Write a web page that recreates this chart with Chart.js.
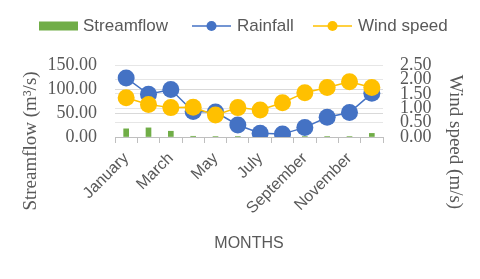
<!DOCTYPE html>
<html>
<head>
<meta charset="utf-8">
<script src="https://cdn.jsdelivr.net/npm/chart.js@4"></script>
<style>
  html, body { margin: 0; padding: 0; background: #fff; }
  #wrap { width: 480px; height: 279px; }
</style>
</head>
<body>
<div id="wrap"><canvas id="myChart" width="480" height="279"></canvas></div>
<script>
// data
const months = ['January', 'February', 'March', 'April', 'May', 'June',
    'July', 'August', 'September', 'October', 'November', 'December'];
const streamflow = [17, 19, 12, 1.5, 1, 1, 0.5, 0.5, 1, 1, 1, 7.5];
const rainfall = [123, 89, 99, 53, 52, 25, 8, 6, 20, 41, 51, 91];
const windSpeed = [1.36, 1.13, 1.02, 1.03, 0.76, 1.02, 0.94, 1.19, 1.54, 1.72, 1.92, 1.72];
const leftTicks = [0, 50, 100, 150];
const rightTicks = [0, 0.5, 1, 1.5, 2, 2.5];

const grey = '#595959';
const serif = 'Liberation Serif';
const sans = 'Liberation Sans';

// legend and the two side titles are drawn by hand
const extras = {
    id: 'extras',
    afterDraw(chart) {
        const c = chart.ctx;
        c.save();
        c.fillStyle = grey;
        c.textBaseline = 'middle';
        c.font = '17px ' + sans;

        // legend
        const y = 26;
        c.fillStyle = '#70AD47';
        c.fillRect(39, y - 4.5, 39, 9);
        c.fillStyle = grey;
        c.fillText('Streamflow', 83, y);

        const marks = [[192, '#4472C4', 'Rainfall'], [313, '#FFC000', 'Wind speed']];
        marks.forEach(m => {
            c.strokeStyle = m[1];
            c.lineWidth = 1.5;
            c.beginPath();
            c.moveTo(m[0], y);
            c.lineTo(m[0] + 39, y);
            c.stroke();
            c.fillStyle = m[1];
            c.beginPath();
            c.arc(m[0] + 19.5, y, 5, 0, Math.PI * 2);
            c.fill();
            c.fillStyle = grey;
            c.fillText(m[2], m[0] + 45, y);
        });

        // axis titles
        c.font = '19px ' + serif;
        c.textAlign = 'center';
        c.save();
        c.translate(31, 141);
        c.rotate(-Math.PI / 2);
        c.fillText('Streamflow (m³/s)', 0, 0);
        c.restore();

        c.save();
        c.translate(455, 142);
        c.rotate(Math.PI / 2);
        c.fillText('Wind speed (m/s)', 0, 0);
        c.restore();

        c.restore();
    }
};

const ctx = document.getElementById('myChart');
const myChart = new Chart(ctx, {
    type: 'bar',
    data: {
        labels: months,
        datasets: [{
            type: 'line',
            label: 'Wind speed',
            data: windSpeed,
            yAxisID: 'y1',
            borderColor: '#FFC000',
            backgroundColor: '#FFC000',
            borderWidth: 1.5,
            pointRadius: 8.5,
            pointBorderWidth: 0,
            order: 0
        }, {
            type: 'line',
            label: 'Rainfall',
            data: rainfall,
            yAxisID: 'y',
            borderColor: '#4472C4',
            backgroundColor: '#4472C4',
            borderWidth: 1.5,
            pointRadius: 8.5,
            pointBorderWidth: 0,
            order: 1
        }, {
            label: 'Streamflow',
            data: streamflow,
            yAxisID: 'y',
            backgroundColor: '#70AD47',
            barThickness: 5,
            order: 2
        }]
    },
    options: {
        responsive: false,
        animation: false,
        layout: { padding: { top: 65, left: 0, right: 0, bottom: 0 } },
        plugins: {
            legend: { display: false },
            tooltip: { enabled: false }
        },
        scales: {
            x: {
                afterFit(scale) { scale.height = 142; },
                grid: { drawOnChartArea: false, color: '#BFBFBF', tickLength: 6, offset: true },
                border: { color: '#BFBFBF' },
                ticks: {
                    color: grey,
                    font: { family: sans, size: 16 },
                    minRotation: 45,
                    maxRotation: 45,
                    autoSkip: false,
                    padding: 6,
                    callback: function (v, i) { return i % 2 === 0 ? months[i] : ''; }
                },
                title: {
                    display: true,
                    text: 'MONTHS',
                    color: grey,
                    font: { family: sans, size: 16 },
                    padding: { top: 0, bottom: 26 }
                }
            },
            y: {
                position: 'left',
                min: 0,
                max: 150,
                afterFit(scale) { scale.width = 115; },
                afterBuildTicks(scale) { scale.ticks = leftTicks.map(v => ({ value: v })); },
                grid: { color: '#D9D9D9', drawTicks: false },
                border: { display: false },
                ticks: {
                    color: grey,
                    autoSkip: false,
                    font: { family: serif, size: 18, lineHeight: 0.8 },
                    padding: 18,
                    callback: v => v.toFixed(2)
                }
            },
            y1: {
                position: 'right',
                min: 0,
                max: 2.5,
                afterFit(scale) { scale.width = 97; },
                afterBuildTicks(scale) { scale.ticks = rightTicks.map(v => ({ value: v })); },
                grid: { color: '#E6E6E6', drawTicks: false },
                border: { display: false },
                ticks: {
                    color: grey,
                    autoSkip: false,
                    font: { family: serif, size: 18, lineHeight: 0.8 },
                    padding: 17,
                    callback: v => v.toFixed(2)
                }
            }
        }
    },
    plugins: [extras]
});
</script>
</body>
</html>
